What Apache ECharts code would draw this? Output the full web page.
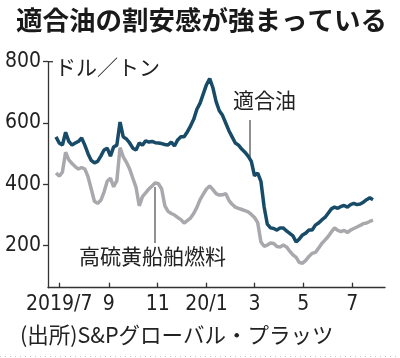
<!DOCTYPE html>
<html>
<head>
<meta charset="utf-8">
<script src="https://cdn.jsdelivr.net/npm/echarts@6/dist/echarts.min.js"></script>
<style>
html,body{margin:0;padding:0;background:#fff;}
#c{width:400px;height:358px;}
</style>
</head>
<body>
<div id="c"></div>
<script>
const dates = [
'2019-06-27','2019-07-01','2019-07-05','2019-07-09','2019-07-13','2019-07-17','2019-07-21','2019-07-25','2019-07-29',
'2019-08-02','2019-08-06','2019-08-10','2019-08-14','2019-08-18','2019-08-22','2019-08-26','2019-08-30',
'2019-09-03','2019-09-07','2019-09-11','2019-09-15','2019-09-19','2019-09-23','2019-09-27',
'2019-10-01','2019-10-05','2019-10-09','2019-10-13','2019-10-17','2019-10-21','2019-10-25','2019-10-29',
'2019-11-02','2019-11-06','2019-11-10','2019-11-14','2019-11-18','2019-11-22','2019-11-26','2019-11-30',
'2019-12-04','2019-12-08','2019-12-12','2019-12-16','2019-12-20','2019-12-24','2019-12-28',
'2020-01-01','2020-01-05','2020-01-09','2020-01-13','2020-01-17','2020-01-21','2020-01-25','2020-01-29',
'2020-02-02','2020-02-06','2020-02-10','2020-02-14','2020-02-18','2020-02-22','2020-02-26',
'2020-03-01','2020-03-05','2020-03-09','2020-03-13','2020-03-17','2020-03-21','2020-03-25','2020-03-29',
'2020-04-02','2020-04-06','2020-04-10','2020-04-14','2020-04-18','2020-04-22','2020-04-26','2020-04-30',
'2020-05-04','2020-05-08','2020-05-12','2020-05-16','2020-05-20','2020-05-24','2020-05-28',
'2020-06-01','2020-06-05','2020-06-09','2020-06-13','2020-06-17','2020-06-21','2020-06-25','2020-06-29',
'2020-07-03','2020-07-07','2020-07-11','2020-07-15','2020-07-19','2020-07-23','2020-07-27'
];
// 適合油 (compliant fuel)
const tekigoyu = [
555,535,528,570,540,528,535,540,551,
528,500,478,470,475,492,512,518,
492,522,528,603,555,548,535,
518,512,535,528,542,538,540,536,
535,533,530,528,538,525,545,555,
555,571,590,612,645,665,695,
725,745,715,670,640,625,600,575,
555,535,528,515,505,492,475,
428,437,410,326,270,258,256,251,
258,258,248,240,232,212,222,235,
241,251,251,267,274,284,292,
306,320,326,322,328,331,326,334,
338,334,336,342,350,356,350
];
// 高硫黄船舶燃料 (high sulfur bunker fuel)
const koryuo = [
437,427,440,505,480,468,458,450,455,
450,425,385,345,338,348,375,410,
420,392,412,520,490,472,450,
420,390,330,360,372,385,395,405,
402,385,330,312,305,300,292,285,
274,282,290,305,325,350,368,
385,395,383,370,365,366,370,348,
335,326,322,318,314,310,302,
292,275,212,198,202,209,207,197,
196,202,196,182,170,162,145,143,
152,165,175,178,192,207,218,
230,245,258,250,246,250,243,251,
256,261,266,272,274,279,283
];
const tickDates = ['2019-07-01','2019-09-01','2019-11-01','2020-01-01','2020-03-01','2020-05-01','2020-07-01'];
const tickLabels = ['2019/7','9','11','20/1','3','5','7'];
const yTicks = [200,400,600,800];

function ts(s){const p=s.split('-').map(Number);return Date.UTC(p[0],p[1]-1,p[2]);}
const tickTs = tickDates.map(ts);
const blueData = dates.map((d,i)=>[ts(d),tekigoyu[i]]);
const grayData = dates.map((d,i)=>[ts(d),koryuo[i]]);

const numFont = '"Liberation Sans Narrow","Arial Narrow","DejaVu Sans Condensed",sans-serif';
const jpFont = '"Noto Sans CJK JP",sans-serif';
const axisColor = '#333';

const chart = echarts.init(document.getElementById('c'), null, {renderer:'canvas'});
chart.setOption({
  animation:false,
  backgroundColor:'#fff',
  title:{
    text:'適合油の割安感が強まっている',
    left:11, top:2,
    textStyle:{fontFamily:jpFont,fontWeight:'bold',fontSize:26.5,color:'#1a1a1a'}
  },
  grid:{left:48,right:15,top:61.7,bottom:70.3,containLabel:false},
  xAxis:{
    type:'value',
    min:ts('2019-06-17'), max:ts('2020-08-11'),
    axisLine:{show:true,onZero:false,lineStyle:{color:axisColor,width:1.3}},
    axisTick:{show:true,inside:true,length:5,customValues:tickTs,lineStyle:{color:axisColor,width:1.3}},
    axisLabel:{
      customValues:tickTs,
      margin:6,
      fontFamily:numFont,fontSize:21,color:'#222',
      formatter:function(v){const i=tickTs.indexOf(v);return i>=0?tickLabels[i]:'';}
    },
    splitLine:{show:false}
  },
  yAxis:{
    type:'value',
    min:63,max:800,
    axisLine:{show:true,lineStyle:{color:axisColor,width:1.3}},
    axisTick:{show:true,length:5,customValues:yTicks,lineStyle:{color:axisColor,width:1.3}},
    axisLabel:{customValues:yTicks,margin:7,fontFamily:numFont,fontSize:21,color:'#222'},
    splitLine:{show:false}
  },
  series:[
    {type:'line',name:'高硫黄船舶燃料',data:grayData,showSymbol:false,symbol:'none',
     lineStyle:{color:'#a9a9ad',width:3.5},z:2},
    {type:'line',name:'適合油',data:blueData,showSymbol:false,symbol:'none',
     lineStyle:{color:'#174b68',width:3.5},z:3}
  ],
  graphic:[
    {type:'line',shape:{x1:48,y1:61.7,x2:53,y2:61.7},style:{stroke:axisColor,lineWidth:1.3}},
    {type:'text',left:55,top:57,style:{text:'ドル／トン',font:'21px "Noto Sans CJK JP",sans-serif',fill:'#222'}},
    {type:'text',left:233,top:90,style:{text:'適合油',font:'21px "Noto Sans CJK JP",sans-serif',fill:'#222'}},
    {type:'line',shape:{x1:250,y1:120,x2:250,y2:161},style:{stroke:'#555',lineWidth:1.3}},
    {type:'text',left:79,top:246,style:{text:'高硫黄船舶燃料',font:'21px "Noto Sans CJK JP",sans-serif',fill:'#222'}},
    {type:'line',shape:{x1:155,y1:187,x2:155,y2:243},style:{stroke:'#555',lineWidth:1.3}},
    {type:'text',left:20,top:324,style:{text:'(出所)S&Pグローバル・プラッツ',font:'21.5px "Noto Sans CJK JP",sans-serif',fill:'#222'}},
    {type:'line',shape:{x1:0,y1:356.5,x2:400,y2:356.5},style:{stroke:'#c8c8c8',lineWidth:1,lineDash:[1,4]}}
  ]
});
</script>
</body>
</html>
